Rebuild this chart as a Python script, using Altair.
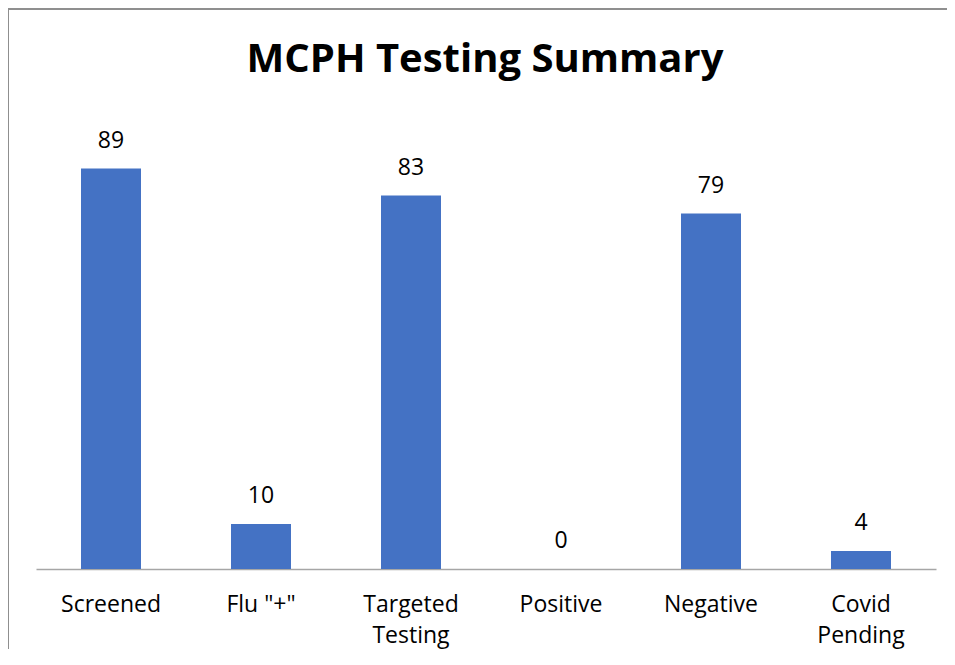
import altair as alt
import pandas as pd

categories = ["Screened", "Flu \"+\"", "Targeted\nTesting", "Positive", "Negative", "Covid\nPending"]
values = [89, 10, 83, 0, 79, 4]
title_text = "MCPH Testing Summary"

df = pd.DataFrame({"category": categories, "value": values})
title_df = pd.DataFrame({"t": [title_text]})

FONT = "Open Sans"

x = alt.X("category:N", sort=categories, title=None,
          scale=alt.Scale(paddingInner=0.6, paddingOuter=0.3),
          axis=alt.Axis(labelAngle=0, labelExpr="split(datum.label, '\\n')",
                        labelFont=FONT, labelFontSize=23, labelColor="#000000",
                        labelPadding=24, labelLineHeight=31, labelBaseline="top",
                        ticks=False, domainColor="#a6a6a6", domainWidth=1.3))
y = alt.Y("value:Q", title=None, scale=alt.Scale(domain=[0, 100], nice=False),
          axis=None)

bars = alt.Chart(df).mark_bar(color="#4472C4").encode(x=x, y=y)
text = alt.Chart(df).mark_text(font=FONT, fontSize=23, color="#000000", dy=-16,
                               baseline="bottom").encode(
    x=alt.X("category:N", sort=categories), y="value:Q", text="value:Q")

title = alt.Chart(title_df).mark_text(font=FONT, fontSize=40, fontWeight="bold",
                                      color="#000000", baseline="middle").encode(
    x=alt.value(449), y=alt.value(-59), text="t:N")

frame_top = alt.Chart(df).mark_rule(color="#8f8f8f", strokeWidth=1.5).encode(
    x=alt.value(-30), x2=alt.value(920), y=alt.value(-110))
frame_left = alt.Chart(df).mark_rule(color="#8f8f8f", strokeWidth=1.5).encode(
    x=alt.value(-28), y=alt.value(-112), y2=alt.value(560))

chart = alt.layer(frame_top, frame_left, bars, text, title).properties(
    width=900, height=450,
    autosize=alt.AutoSizeParams(type="none"),
    padding={"left": 28, "top": 111, "right": 11, "bottom": 80},
).configure_view(stroke=None)

chart.save("out.html", embed_options={"renderer": "svg", "actions": False})
